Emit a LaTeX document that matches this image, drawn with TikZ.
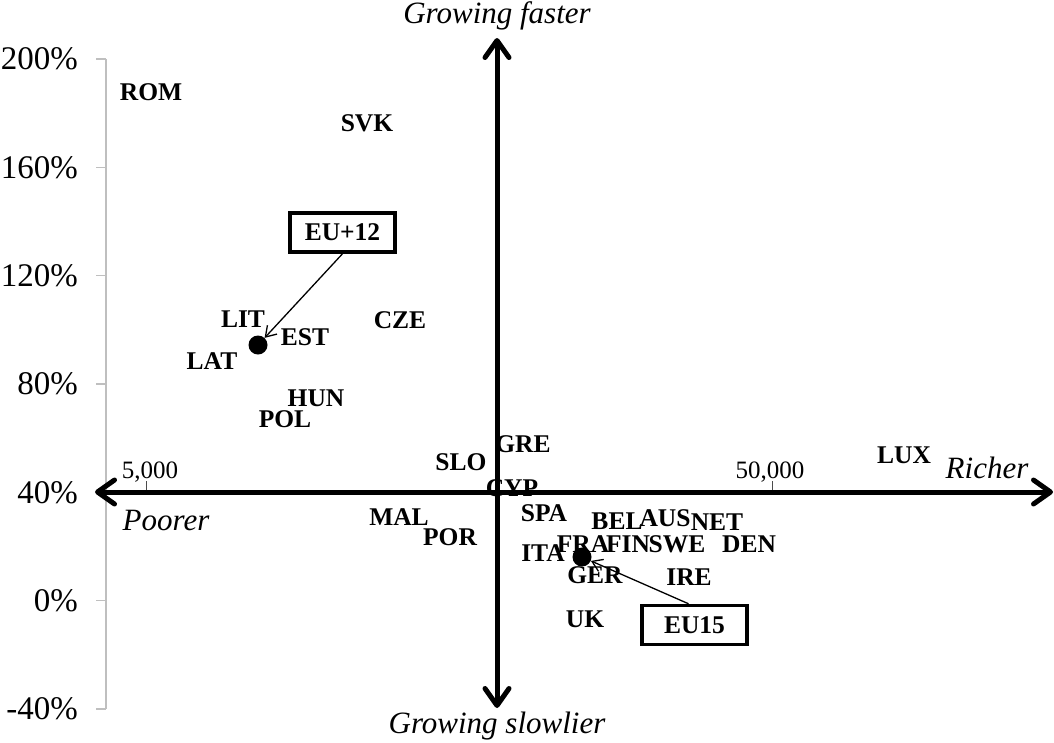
\documentclass[tikz,border=0pt]{standalone}
\usepackage{fontspec}
\setmainfont{Liberation Serif}
\usetikzlibrary{arrows.meta}
\begin{document}
\begin{tikzpicture}[x=1pt,y=-1pt,
  cty/.style={font=\fontsize{25.5}{30}\selectfont\bfseries, inner sep=0pt},
  axlab/.style={font=\fontsize{31}{36}\selectfont\itshape, inner sep=0pt, anchor=base},
  ylab/.style={font=\fontsize{33}{38}\selectfont, inner sep=0pt, anchor=east},
  xlab/.style={font=\fontsize{25}{30}\selectfont, inner sep=0pt, anchor=base},
  bigarrow/.style={line width=5pt, {Straight Barb[length=17pt,width=24pt,round]}-{Straight Barb[length=17pt,width=24pt,round]}},
  callout/.style={draw, line width=3.5pt, fill=white, minimum width=105pt, minimum height=39pt, inner sep=0pt, font=\fontsize{25.5}{30}\selectfont\bfseries},
  pointer/.style={line width=1.3pt, -{Straight Barb[length=10pt,width=13pt]}},
  avgdot/.style={circle, fill=black, minimum size=19pt, inner sep=0pt},
  gridaxis/.style={draw=gray!50, line width=1.5pt},
  xtick/.style={draw=black!70, line width=1pt}
]
\useasboundingbox (0,0) rectangle (1054,742);

% gray y axis with ticks and labels
\coordinate (yaxtop) at (106,59);
\coordinate (yaxbot) at (106,709);
\draw[gridaxis] (yaxtop) -- (yaxbot);
\foreach \v/\y/\n in {200\%/59/a,160\%/167.3/b,120\%/275.7/c,80\%/384/d,40\%/492.3/e,0\%/600.7/f,-40\%/709/g}{
  \draw[gridaxis] (96,\y) -- (106,\y);
  \node[ylab] (ylab\n) at (78,\y) {\v};
}

% x ticks
\draw[xtick] (146,481) -- (146,490);
\draw[xtick] (772,481) -- (772,490);
\node[xlab] (x5k) at (150,478) {5,000};
\node[xlab] (x50k) at (770,478) {50,000};

% main axes
\coordinate (left) at (95,492);
\coordinate (right) at (1053,492);
\coordinate (top) at (497,38);
\coordinate (bottom) at (497,708);
\draw[bigarrow] (left) -- (right);
\draw[bigarrow] (top) -- (bottom);

\node[axlab] (faster) at (497,23) {Growing faster};
\node[axlab] (slower) at (497,733) {Growing slowlier};
\node[axlab] (poorer) at (166,530) {Poorer};
\node[axlab] (richer) at (987,478) {Richer};

% countries
\node[cty] (ROM) at (151,92) {ROM};
\node[cty] (SVK) at (367,123) {SVK};
\node[cty] (LIT) at (243,319) {LIT};
\node[cty] (EST) at (305,337) {EST};
\node[cty] (LAT) at (212,361) {LAT};
\node[cty] (CZE) at (400,320) {CZE};
\node[cty] (HUN) at (316,398) {HUN};
\node[cty] (POL) at (285,419) {POL};
\node[cty] (GRE) at (523,444) {GRE};
\node[cty] (SLO) at (461,462) {SLO};
\node[cty] (CYP) at (512,488) {CYP};
\node[cty] (LUX) at (904,455) {LUX};
\node[cty] (MAL) at (399,517) {MAL};
\node[cty] (POR) at (450,537) {POR};
\node[cty] (SPA) at (544,513) {SPA};
\node[cty] (BEL) at (617,521) {BEL};
\node[cty] (AUS) at (665,518) {AUS};
\node[cty] (NET) at (717,522) {NET};
\node[cty] (FRA) at (583,544) {FRA};
\node[cty] (FIN) at (628,544) {FIN};
\node[cty] (SWE) at (677,544) {SWE};
\node[cty] (DEN) at (749,544) {DEN};
\node[cty] (ITA) at (543,553) {ITA};
\node[cty] (GER) at (595,575) {GER};
\node[cty] (IRE) at (689,577) {IRE};
\node[cty] (UK) at (585,619) {UK};

% averages
\node[avgdot] (eu12dot) at (258,345) {};
\node[avgdot] (eu15dot) at (582,557) {};
\node[callout] (eu12box) at (342.5,232.5) {EU+12};
\node[callout] (eu15box) at (694.5,625) {EU15};
\coordinate (eu15from) at ([xshift=-6pt]eu15box.north);
\draw[pointer] (eu12box.south) -- (eu12dot);
\draw[pointer] (eu15from) -- (eu15dot);
\end{tikzpicture}
\end{document}
